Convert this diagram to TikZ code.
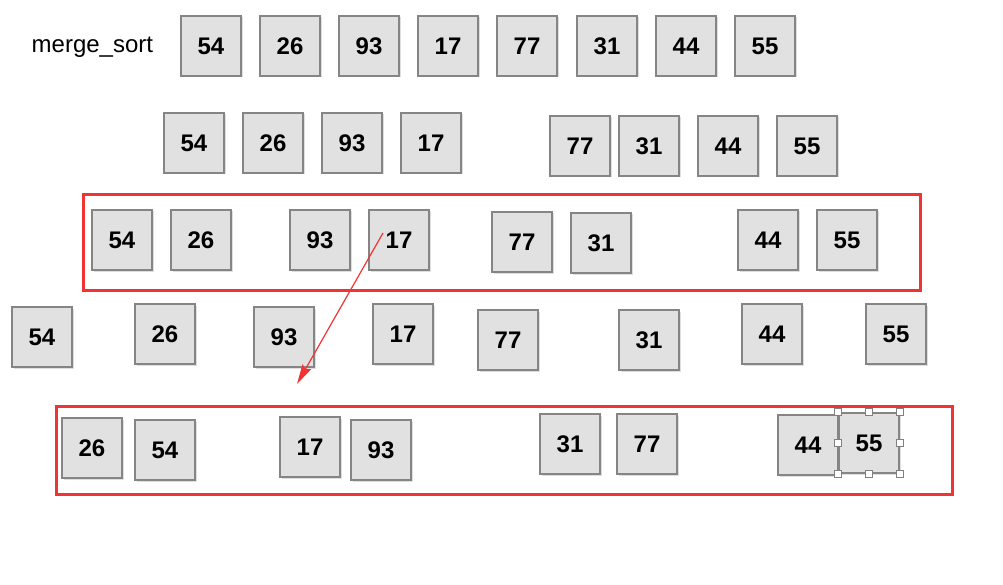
\documentclass[tikz,border=0pt]{standalone}
\usepackage{fontspec}
\setmainfont{Liberation Sans}
\usetikzlibrary{arrows.meta,shadows}

\definecolor{boxfill}{HTML}{E1E1E1}
\definecolor{boxline}{HTML}{858585}
\definecolor{markred}{HTML}{F03434}

\begin{document}
\begin{tikzpicture}[x=1pt,y=-1pt,thick,
    num box/.style={draw=boxline,fill=boxfill,line width=1.4pt,minimum size=60pt,inner sep=0pt,
        font=\fontsize{24}{24}\selectfont\bfseries,drop shadow={opacity=0.25,shadow xshift=1.5pt,shadow yshift=-1.5pt}},
    group box/.style={draw=markred,line width=3pt},
    handle/.style={draw=gray,fill=white,line width=0.8pt,minimum size=7pt,inner sep=0pt}]
                \useasboundingbox (0,0) rectangle (1003,585);

                \node[font=\fontsize{24}{24}\selectfont,anchor=west] (title) at (28,47) {merge\_sort};

                % whole list
                \node[num box] (a1) at (211,46) {54};
                \node[num box] (a2) at (290,46) {26};
                \node[num box] (a3) at (369,46) {93};
                \node[num box] (a4) at (448,46) {17};
                \node[num box] (a5) at (527,46) {77};
                \node[num box] (a6) at (607,46) {31};
                \node[num box] (a7) at (686,46) {44};
                \node[num box] (a8) at (765,46) {55};

                % halves
                \node[num box] (b1) at (194,143) {54};
                \node[num box] (b2) at (273,143) {26};
                \node[num box] (b3) at (352,143) {93};
                \node[num box] (b4) at (431,143) {17};
                \node[num box] (b5) at (580,146) {77};
                \node[num box] (b6) at (649,146) {31};
                \node[num box] (b7) at (728,146) {44};
                \node[num box] (b8) at (807,146) {55};

                % quarters
                \draw[group box] (83,195) rectangle (920,290);
                \node[num box] (c1) at (122,240) {54};
                \node[num box] (c2) at (201,240) {26};
                \node[num box] (c3) at (320,240) {93};
                \node[num box] (c4) at (399,240) {17};
                \node[num box] (c5) at (522,242) {77};
                \node[num box] (c6) at (601,243) {31};
                \node[num box] (c7) at (768,240) {44};
                \node[num box] (c8) at (847,240) {55};

                % single items
                \node[num box] (d1) at (42,337) {54};
                \node[num box] (d2) at (165,334) {26};
                \node[num box] (d3) at (284,337) {93};
                \node[num box] (d4) at (403,334) {17};
                \node[num box] (d5) at (508,340) {77};
                \node[num box] (d6) at (649,340) {31};
                \node[num box] (d7) at (772,334) {44};
                \node[num box] (d8) at (896,334) {55};

                % merged pairs
                \draw[group box] (56,406) rectangle (952,494);
                \node[num box] (e1) at (92,448) {26};
                \node[num box] (e2) at (165,450) {54};
                \node[num box] (e3) at (310,447) {17};
                \node[num box] (e4) at (381,450) {93};
                \node[num box] (e5) at (570,444) {31};
                \node[num box] (e6) at (647,444) {77};
                \node[num box] (e7) at (808,445) {44};
                \node[num box] (e8) at (869,443) {55};

                % selection handles
                \foreach \anc in {north west,north,north east,west,east,south west,south,south east}
                    \node[handle] at (e8.\anc) {};

                \coordinate (tail) at (383,233);
                \coordinate (tip) at (297,384);
                \draw[markred,line width=1.2pt,-{Stealth[length=20pt,width=10pt,inset=3pt]}] (tail) -- (tip);
            \end{tikzpicture}
\end{document}
